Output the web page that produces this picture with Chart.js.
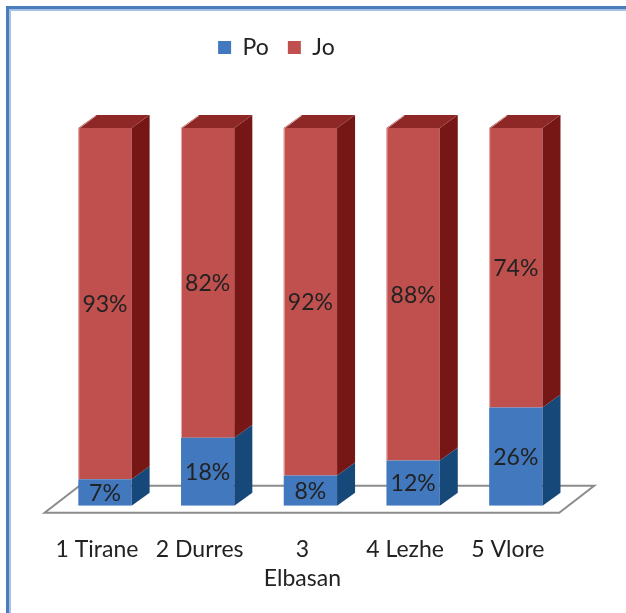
<!DOCTYPE html>
<html>
<head>
<meta charset="utf-8">
<script src="https://cdn.jsdelivr.net/npm/chart.js@4.4.1/dist/chart.umd.min.js"></script>
<style>
  html, body { margin: 0; padding: 0; background: #fff; }
  #wrap { position: relative; width: 626px; height: 613px; overflow: hidden; }
  #chart { position: absolute; left: 0; top: 0; }
  #frame {
    position: absolute; left: 6px; top: 6px; width: 660px; height: 605px;
    border-left: 3px solid #4a7ebb; border-top: 3px solid #4a7ebb;
    border-bottom: 2px solid #8db3e2;
    box-shadow: inset 2px 2px 0 #a5c2e6;
    pointer-events: none;
  }
</style>
</head>
<body>
<div id="wrap">
  <canvas id="chart" width="626" height="613"></canvas>
  <div id="frame"></div>
</div>
<script>
const categories = ["1 Tirane", "2 Durres", ["3", "Elbasan"], "4 Lezhe", "5 Vlore"];
const poValues = [7, 18, 8, 12, 26];
const joValues = [93, 82, 92, 88, 74];

const frontColors = ["#4178be", "#c0504d"];
const sideColors = ["#17487a", "#761716"];
const topColor = "#8d2826";
const depthX = 18;
const depthY = 13;

// side and top faces for each bar, plus the value labels
const bars3d = {
  id: "bars3d",
  beforeInit(chart) {
    // extra room between legend and plot
    const legend = chart.legend;
    const fit = legend.fit;
    legend.fit = function () {
      fit.call(this);
      this.height += 59;
    };
  },
  afterLayout(chart) {
    chart.legend.left -= 34;
    chart.legend.right -= 34;
  },
  beforeDatasetsDraw(chart) {
    const { ctx, chartArea } = chart;
    const base = chart.scales.y.getPixelForValue(0);
    const fl = chartArea.left - 9;
    const fr = chartArea.right - 8;
    const fy = base + 7;
    const by = base - 20;
    ctx.save();
    ctx.beginPath();
    ctx.moveTo(fl, fy);
    ctx.lineTo(fr, fy);
    ctx.lineTo(fr + 35, by);
    ctx.lineTo(fl + 35, by);
    ctx.closePath();
    ctx.fillStyle = "#fff";
    ctx.fill();
    ctx.lineWidth = 2;
    ctx.strokeStyle = "#8c8c8c";
    ctx.stroke();
    ctx.restore();
  },
  afterDatasetsDraw(chart) {
    const { ctx } = chart;
    const last = chart.data.datasets.length - 1;
    ctx.save();
    chart.data.datasets.forEach((ds, i) => {
      chart.getDatasetMeta(i).data.forEach((bar) => {
        const { x, y, base, width } = bar.getProps(["x", "y", "base", "width"], true);
        const left = x - width / 2;
        const right = x + width / 2;
        ctx.fillStyle = sideColors[i];
        ctx.beginPath();
        ctx.moveTo(right, y);
        ctx.lineTo(right + depthX, y - depthY);
        ctx.lineTo(right + depthX, base - depthY);
        ctx.lineTo(right, base);
        ctx.closePath();
        ctx.fill();
        if (i === last) {
          ctx.fillStyle = topColor;
          ctx.beginPath();
          ctx.moveTo(left, y);
          ctx.lineTo(left + depthX, y - depthY);
          ctx.lineTo(right + depthX, y - depthY);
          ctx.lineTo(right, y);
          ctx.closePath();
          ctx.fill();
          ctx.strokeStyle = "rgba(240, 190, 190, 0.8)";
          ctx.lineWidth = 1;
          ctx.beginPath();
          ctx.moveTo(left + 0.5, base);
          ctx.lineTo(left + 0.5, y + 0.5);
          ctx.lineTo(left + depthX, y - depthY + 0.5);
          ctx.stroke();
        }
      });
    });

    ctx.font = "23px Lato";
    ctx.fillStyle = "#222";
    ctx.textAlign = "center";
    ctx.textBaseline = "middle";
    chart.data.datasets.forEach((ds, i) => {
      chart.getDatasetMeta(i).data.forEach((bar, j) => {
        const { x, y, base } = bar.getProps(["x", "y", "base"], true);
        ctx.fillText(ds.data[j] + "%", x, (y + base) / 2 + 1);
      });
    });
    ctx.restore();
  },
};

new Chart(document.getElementById("chart"), {
  type: "bar",
  data: {
    labels: categories,
    datasets: [
      { label: "Po", data: poValues, backgroundColor: frontColors[0] },
      { label: "Jo", data: joValues, backgroundColor: frontColors[1] },
    ],
  },
  options: {
    responsive: false,
    animation: false,
    layout: { padding: { left: 53.6, right: 58.8, top: 17, bottom: -9.5 } },
    datasets: {
      bar: { categoryPercentage: 1, barPercentage: 0.519, borderWidth: 0 },
    },
    scales: {
      x: {
        stacked: true,
        grid: { display: false, drawTicks: false },
        border: { display: false },
        ticks: {
          color: "#222",
          padding: 28.5,
          labelOffset: -8,
          maxRotation: 0,
          autoSkip: false,
          font: { family: "Lato", size: 23, lineHeight: 1.3 },
        },
      },
      y: { stacked: true, display: false, min: 0, max: 100 },
    },
    plugins: {
      legend: {
        position: "top",
        labels: {
          boxWidth: 13,
          boxHeight: 13,
          padding: 19,
          color: "#222",
          font: { family: "Lato", size: 23 },
        },
      },
      tooltip: { enabled: false },
    },
  },
  plugins: [bars3d],
});
</script>
</body>
</html>
